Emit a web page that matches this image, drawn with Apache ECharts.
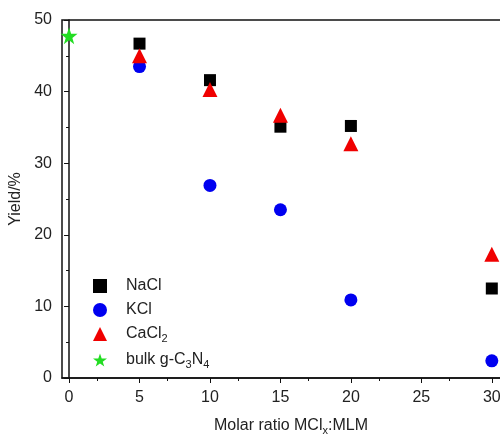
<!DOCTYPE html>
<html>
<head>
<meta charset="utf-8">
<script src="https://cdn.jsdelivr.net/npm/echarts@6/dist/echarts.min.js"></script>
<style>
  html, body { margin: 0; padding: 0; background: #fff; width: 500px; height: 435px; overflow: hidden; }
  #chart { width: 540px; height: 435px; }
</style>
</head>
<body>
<div id="chart"></div>
<script>
// 数据：摩尔比 vs 产率
const ratios = [5, 10, 15, 20, 30];
const naclYield = [46.7, 41.6, 35.1, 35.2, 12.5];
const kclYield = [43.5, 26.9, 23.5, 10.9, 2.4];
const cacl2Yield = [45.0, 40.3, 36.7, 32.7, 17.3];
const bulkRatio = [0];
const bulkYield = [47.8];
const xTicks = [0, 5, 10, 15, 20, 25, 30];
const yTicks = [0, 10, 20, 30, 40, 50];

const STAR = 'path://M50,0 L61.8,35.1 L98.1,35.1 L68.8,56.7 L79.4,90.5 L50,69.8 L20.6,90.5 L31.2,56.7 L1.9,35.1 L38.2,35.1 Z';
const FONT = 'Liberation Sans, Arial, sans-serif';
const TXT = '#222';

const pairs = (xs, ys) => xs.map((x, i) => [x, ys[i]]);

const subRich = {
  sub: { fontSize: 11, verticalAlign: 'bottom', padding: [9, 0, 0, 0], fontFamily: FONT, color: TXT },
  t: { fontSize: 16, fontFamily: FONT, color: TXT }
};

const chart = echarts.init(document.getElementById('chart'), null, { renderer: 'canvas' });
chart.setOption({
  animation: false,
  grid: {
    left: 62, top: 20, width: 458, height: 358,
    outerBoundsMode: 'none', containLabel: false,
    show: true, borderColor: '#111', borderWidth: 1.5
  },
  legend: {
    orient: 'vertical', left: 93, top: 278, itemGap: 8, padding: 0,
    itemWidth: 14, itemHeight: 14,
    textStyle: { fontFamily: FONT, fontSize: 16, color: TXT, rich: subRich, padding: [0, 0, 0, 14] },
    formatter: function (name) {
      if (name === 'CaCl2') return '{t|CaCl}{sub|2}';
      if (name === 'bulk') return '{t|bulk g-C}{sub|3}{t|N}{sub|4}';
      return '{t|' + name + '}';
    },
    data: ['NaCl', 'KCl', 'CaCl2', 'bulk']
  },
  xAxis: {
    type: 'value', min: -0.5, max: 32, interval: 5,
    axisLine: { lineStyle: { color: '#111', width: 1.5 } },
    axisTick: { show: true, inside: false, length: 5, customValues: xTicks, lineStyle: { color: '#111' } },
    minorTick: { show: true, splitNumber: 2, length: 3, lineStyle: { color: '#111' } },
    axisLabel: { customValues: xTicks, fontFamily: FONT, fontSize: 16, color: TXT, margin: 12 },
    splitLine: { show: false },
    name: '{t|Molar ratio MCl}{sub|x}{t|:MLM}',
    nameLocation: 'middle', nameGap: 38,
    nameTextStyle: { rich: subRich, fontFamily: FONT }
  },
  yAxis: {
    type: 'value', min: 0, max: 50, interval: 10,
    axisLine: { lineStyle: { color: '#111', width: 1.5 } },
    axisTick: { show: true, inside: false, length: 5, lineStyle: { color: '#111' } },
    minorTick: { show: true, splitNumber: 2, length: 3, lineStyle: { color: '#111' } },
    axisLabel: { fontFamily: FONT, fontSize: 16, color: TXT, margin: 10, customValues: yTicks },
    splitLine: { show: false },
    name: 'Yield/%', nameLocation: 'middle', nameGap: 31,
    nameTextStyle: { fontFamily: FONT, fontSize: 16, color: TXT }
  },
  series: [
    { name: 'NaCl', type: 'scatter', symbol: 'rect', symbolSize: 12,
      itemStyle: { color: '#000', opacity: 1 }, data: pairs(ratios, naclYield), z: 3 },
    { name: 'KCl', type: 'scatter', symbol: 'circle', symbolSize: 13,
      itemStyle: { color: '#0000f0', opacity: 1 }, data: pairs(ratios, kclYield), z: 2 },
    { name: 'CaCl2', type: 'scatter', symbol: 'triangle', symbolSize: 15,
      itemStyle: { color: '#f00000', opacity: 1 }, data: pairs(ratios, cacl2Yield), z: 4 },
    { name: 'bulk', type: 'scatter', symbol: STAR, symbolSize: 17,
      itemStyle: { color: '#22dd22', opacity: 1 }, data: pairs(bulkRatio, bulkYield), z: 4 }
  ]
});
</script>
</body>
</html>
